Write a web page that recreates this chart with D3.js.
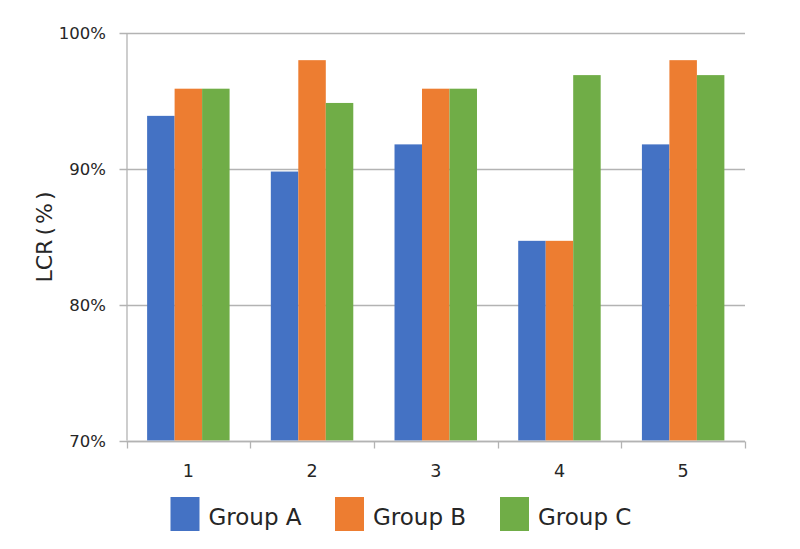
<!DOCTYPE html>
<html>
<head>
<meta charset="utf-8">
<script src="https://cdn.jsdelivr.net/npm/d3@7"></script>
<style>
  body { margin: 0; background: #fff; }
  text { font-family: "DejaVu Sans", sans-serif; fill: #262626; }
</style>
</head>
<body>
<svg id="chart" width="800" height="549"></svg>
<script>
// chart data
const categories = ["1", "2", "3", "4", "5"];
const groups = ["Group A", "Group B", "Group C"];
const groupA = [93.9, 89.8, 91.8, 84.7, 91.8];
const groupB = [95.9, 98.0, 95.9, 84.7, 98.0];
const groupC = [95.9, 94.85, 95.9, 96.9, 96.9];
const yTicks = [70, 80, 90, 100];
const colors = ["#4472C4", "#ED7D31", "#70AD47"];

const series = [groupA, groupB, groupC];

const svg = d3.select("#chart");
// plot area edges
const plotLeft = 126.5, plotRight = 745, plotTop = 33, plotBottom = 440.5;

const x = d3.scaleBand()
  .domain(categories)
  .range([plotLeft, plotRight]);

// bar width ~ band / 4.5 (gap width 150%)
const x1 = d3.scaleBand()
  .domain(groups)
  .range([0, x.bandwidth()])
  .paddingOuter(0.75)
  .paddingInner(0);

const y = d3.scaleLinear()
  .domain([70, 100])
  .range([plotBottom, plotTop]);

// grid lines
svg.append("g")
  .selectAll("line")
  .data(yTicks)
  .enter()
  .append("line")
  .attr("x1", plotLeft - 7)
  .attr("x2", plotRight)
  .attr("y1", d => Math.round(y(d)) + 0.5)
  .attr("y2", d => Math.round(y(d)) + 0.5)
  .attr("stroke", "#b3b3b3")
  .attr("stroke-width", 1.3);

// y labels
svg.append("g")
  .selectAll("text")
  .data(yTicks)
  .enter()
  .append("text")
  .attr("x", 106)
  .attr("y", d => y(d) + 6)
  .attr("text-anchor", "end")
  .style("font-size", "16.5px")
  .text(d => d + "%");

// bars
const bars = svg.append("g");
series.forEach((vals, i) => {
  bars.selectAll(".s" + i)
    .data(vals)
    .enter()
    .append("rect")
    .attr("x", (d, j) => x(categories[j]) + x1(groups[i]))
    .attr("width", x1.bandwidth())
    .attr("y", d => y(d))
    .attr("height", d => y(70) - y(d))
    .attr("fill", colors[i]);
});

// y axis line
svg.append("line")
  .attr("x1", plotLeft + 0.5).attr("x2", plotLeft + 0.5)
  .attr("y1", plotTop).attr("y2", plotBottom)
  .attr("stroke", "#b3b3b3").attr("stroke-width", 1.3);

// x axis
const xAxis = svg.append("g")
  .attr("transform", "translate(0," + (Math.round(plotBottom) + 0.5) + ")");
xAxis.append("line")
  .attr("x1", plotLeft).attr("x2", plotRight)
  .attr("stroke", "#b3b3b3").attr("stroke-width", 1.3);
const bounds = categories.map(c => x(c)).concat([plotRight]);
xAxis.selectAll(".tick")
  .data(bounds)
  .enter()
  .append("line")
  .attr("x1", d => Math.round(d) + 0.5)
  .attr("x2", d => Math.round(d) + 0.5)
  .attr("y1", 0).attr("y2", 7)
  .attr("stroke", "#b3b3b3").attr("stroke-width", 1.3);
xAxis.selectAll("text")
  .data(categories)
  .enter()
  .append("text")
  .attr("x", d => x(d) + x.bandwidth() / 2)
  .attr("y", 35)
  .attr("text-anchor", "middle")
  .style("font-size", "17.5px")
  .text(d => d);

// axis title - parens are spaced out a bit like the original font
const title = svg.append("text")
  .attr("transform", "translate(52,237) rotate(-90)")
  .attr("text-anchor", "middle")
  .style("font-size", "22px");
title.append("tspan").text("LCR");
title.append("tspan").attr("dx", 4).text("(");
title.append("tspan").attr("dx", 3).text("%");
title.append("tspan").attr("dx", 3).text(")");

// legend
const legendX = [170.5, 335, 500];
const legend = svg.append("g");
groups.forEach((g, i) => {
  legend.append("rect")
    .attr("x", legendX[i]).attr("y", 497)
    .attr("width", 29).attr("height", 34)
    .attr("fill", colors[i]);
  legend.append("text")
    .attr("x", legendX[i] + 38).attr("y", 524.5)
    .style("font-size", "23px")
    .text(g);
});
</script>
</body>
</html>
